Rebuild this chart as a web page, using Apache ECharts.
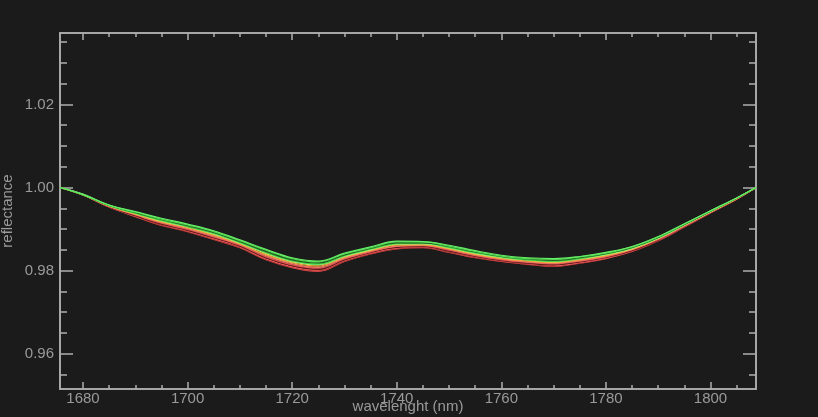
<!DOCTYPE html>
<html>
<head>
<meta charset="utf-8">
<script src="https://cdn.jsdelivr.net/npm/echarts@6/dist/echarts.min.js"></script>
<style>
html,body{margin:0;padding:0;background:#1b1b1b;}
#chart{width:818px;height:417px;}
</style>
</head>
<body>
<div id="chart"></div>
<script>
// wavelengths (nm)
const wavelengths = [1675.6,1680,1685,1690,1695,1700,1705,1710,1715,1720,1725,1730,1735,1740,1745,1750,1755,1760,1765,1770,1775,1780,1785,1790,1795,1800,1805,1808.7];

// reflectance spectra (continuum removed)
const specG1 = [1.0000,.9983,.9958,.9942,.9926,.9912,.9896,.9874,.9851,.9831,.9823,.9842,.9857,.9871,.9870,.9861,.9848,.9837,.9831,.9829,.9834,.9844,.9858,.9882,.9913,.9944,.9975,1.0000];
const specG2 = [1.0000,.9983,.9957,.9941,.9924,.9910,.9894,.9872,.9849,.9829,.9821,.9840,.9855,.9869,.9869,.9859,.9846,.9835,.9829,.9827,.9833,.9842,.9857,.9881,.9912,.9944,.9975,1.0000];
const specG3 = [1.0000,.9982,.9957,.9940,.9923,.9908,.9892,.9870,.9846,.9826,.9819,.9838,.9854,.9867,.9867,.9858,.9845,.9834,.9828,.9825,.9831,.9841,.9856,.9880,.9911,.9943,.9974,1.0000];
const specG4 = [1.0000,.9983,.9956,.9938,.9921,.9906,.9890,.9868,.9844,.9824,.9816,.9836,.9852,.9865,.9866,.9856,.9843,.9833,.9826,.9823,.9829,.9840,.9855,.9879,.9911,.9943,.9974,1.0000];
const specG5 = [1.0000,.9984,.9957,.9938,.9920,.9906,.9889,.9867,.9843,.9823,.9815,.9835,.9851,.9864,.9865,.9855,.9842,.9832,.9826,.9822,.9829,.9839,.9854,.9878,.9910,.9942,.9974,1.0000];
const specY1 = [1.0000,.9982,.9956,.9937,.9919,.9905,.9887,.9866,.9841,.9821,.9814,.9834,.9850,.9863,.9864,.9854,.9841,.9831,.9825,.9821,.9828,.9838,.9853,.9878,.9910,.9942,.9974,1.0000];
const specY2 = [1.0000,.9982,.9955,.9936,.9917,.9903,.9885,.9864,.9838,.9819,.9811,.9832,.9848,.9861,.9862,.9852,.9839,.9829,.9823,.9819,.9826,.9836,.9852,.9877,.9909,.9941,.9973,1.0000];
const specR1 = [1.0000,.9983,.9955,.9935,.9916,.9901,.9883,.9863,.9836,.9817,.9808,.9830,.9847,.9859,.9861,.9851,.9838,.9828,.9821,.9818,.9824,.9835,.9851,.9876,.9908,.9941,.9973,1.0000];
const specR2 = [1.0000,.9982,.9954,.9934,.9914,.9899,.9881,.9861,.9833,.9814,.9806,.9828,.9845,.9858,.9860,.9849,.9836,.9826,.9820,.9816,.9823,.9833,.9850,.9875,.9907,.9940,.9973,1.0000];
const specR3 = [1.0000,.9982,.9954,.9932,.9912,.9897,.9879,.9859,.9831,.9812,.9803,.9826,.9844,.9856,.9858,.9847,.9834,.9824,.9818,.9814,.9821,.9832,.9848,.9874,.9907,.9940,.9973,1.0000];
const specR4 = [1.0000,.9982,.9953,.9931,.9911,.9895,.9877,.9857,.9828,.9809,.9801,.9824,.9842,.9854,.9857,.9846,.9833,.9823,.9817,.9812,.9819,.9830,.9847,.9873,.9906,.9940,.9972,1.0000];
const specR5 = [1.0000,.9983,.9954,.9931,.9910,.9894,.9876,.9856,.9827,.9808,.9800,.9823,.9841,.9853,.9856,.9845,.9832,.9822,.9816,.9811,.9818,.9830,.9846,.9872,.9905,.9939,.9972,1.0000];
const specR6 = [1.0000,.9982,.9953,.9930,.9909,.9894,.9875,.9855,.9826,.9807,.9798,.9822,.9840,.9852,.9855,.9844,.9831,.9822,.9815,.9810,.9818,.9829,.9846,.9872,.9905,.9939,.9972,1.0000];

// tick labels / tick positions
const xMajorTicks = [1680,1700,1720,1740,1760,1780,1800];
const xMinorTicks = [1680,1685,1690,1695,1700,1705,1710,1715,1720,1725,1730,1735,1740,1745,1750,1755,1760,1765,1770,1775,1780,1785,1790,1795,1800,1805];
const yMajorTicks = [0.96,0.98,1.00,1.02];
const yMinorTicks = [0.955,0.96,0.965,0.97,0.975,0.98,0.985,0.99,0.995,1.00,1.005,1.01,1.015,1.02,1.025,1.03,1.035];

const xLabel = 'wavelenght (nm)';
const yLabel = 'reflectance';

const spectra = [
  {name:'R6', data:specR6, color:'#e84a4a'},
  {name:'R5', data:specR5, color:'#8a2424'},
  {name:'R4', data:specR4, color:'#f05a5a'},
  {name:'R3', data:specR3, color:'#5a1a1a'},
  {name:'R2', data:specR2, color:'#e85050'},
  {name:'R1', data:specR1, color:'#f07a6a'},
  {name:'Y2', data:specY2, color:'#f0a040'},
  {name:'Y1', data:specY1, color:'#e8d84a'},
  {name:'G5', data:specG5, color:'#8cf08c'},
  {name:'G4', data:specG4, color:'#3cc83c'},
  {name:'G3', data:specG3, color:'#1f5e1f'},
  {name:'G2', data:specG2, color:'#4fd84f'},
  {name:'G1', data:specG1, color:'#66ee66'}
];

const AX = '#b0b0b0';
const TXT = '#9a9a9a';
const FONT = 'Liberation Sans';
const XMIN = 1675.6, XMAX = 1808.7, YMIN = 0.9515, YMAX = 1.0372;

function xAxisDef(pos, values, len, labels) {
  return {
    type:'value', position:pos, min:XMIN, max:XMAX,
    axisLine:{show:true, onZero:false, lineStyle:{color:AX, width:1.5}},
    axisTick:{show:true, inside:true, length:len, customValues:values, lineStyle:{color:AX, width:1.5}},
    axisLabel:labels ? {show:true, customValues:xMajorTicks, color:TXT, fontFamily:FONT, fontSize:15, margin:2, formatter:v=>String(v)} : {show:false},
    splitLine:{show:false},
    name: labels ? xLabel : '',
    nameLocation:'middle', nameGap:10, nameMoveOverlap:false,
    nameTextStyle:{color:TXT, fontFamily:FONT, fontSize:15}
  };
}
function yAxisDef(pos, values, len, labels) {
  return {
    type:'value', position:pos, min:YMIN, max:YMAX,
    axisLine:{show:true, onZero:false, lineStyle:{color:AX, width:1.5}},
    axisTick:{show:true, inside:true, length:len, customValues:values, lineStyle:{color:AX, width:1.5}},
    axisLabel:labels ? {show:true, customValues:yMajorTicks, color:TXT, fontFamily:FONT, fontSize:15, margin:6, formatter:v=>v.toFixed(2)} : {show:false},
    splitLine:{show:false},
    name: labels ? yLabel : '',
    nameLocation:'middle', nameGap:45, nameRotate:90, nameMoveOverlap:false,
    nameTextStyle:{color:TXT, fontFamily:FONT, fontSize:15}
  };
}

const chart = echarts.init(document.getElementById('chart'), null, {renderer:'canvas'});
chart.setOption({
  backgroundColor:'#1b1b1b',
  animation:false,
  grid:{left:60, right:62, top:33, bottom:28, containLabel:false, outerBoundsMode:'none'},
  xAxis:[
    xAxisDef('bottom', xMajorTicks, 7, true),
    xAxisDef('bottom', xMinorTicks, 4, false),
    xAxisDef('top', xMajorTicks, 7, false),
    xAxisDef('top', xMinorTicks, 4, false)
  ],
  yAxis:[
    yAxisDef('left', yMajorTicks, 13, true),
    yAxisDef('left', yMinorTicks, 7, false),
    yAxisDef('right', yMajorTicks, 13, false),
    yAxisDef('right', yMinorTicks, 7, false)
  ],
  series: spectra.map(s => ({
    name:s.name, type:'line', xAxisIndex:0, yAxisIndex:0,
    data: wavelengths.map((w,i)=>[w, s.data[i]]),
    showSymbol:false, symbol:'none', smooth:0.4,
    lineStyle:{color:s.color, width:1.2},
    emphasis:{disabled:true}
  }))
});
</script>
</body>
</html>
